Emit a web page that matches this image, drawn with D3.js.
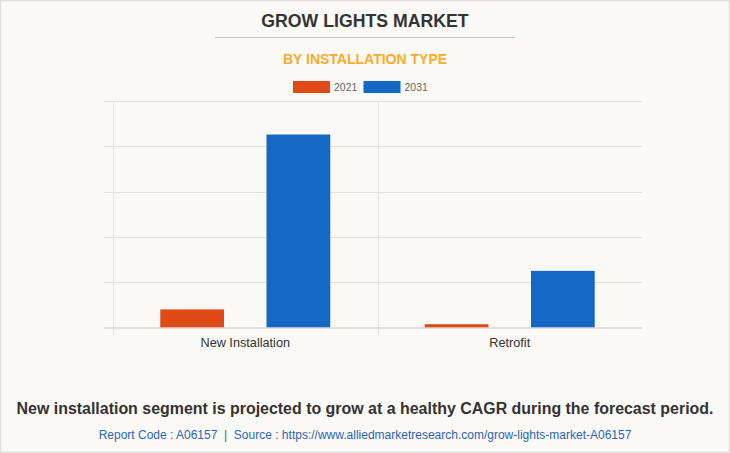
<!DOCTYPE html>
<html>
<head>
<meta charset="utf-8">
<script src="https://cdn.jsdelivr.net/npm/d3@7"></script>
<style>
  html, body { margin: 0; padding: 0; background: #faf9f5; }
  svg { display: block; }
</style>
</head>
<body>
<svg id="chart" width="730" height="453"></svg>
<script>
const categories = ["New Installation", "Retrofit"];
const seriesNames = ["2021", "2031"];
const values2021 = [400, 73];
const values2031 = [4260, 1250];
const yTicks = [0, 1000, 2000, 3000, 4000, 5000];
const colors = ["#e04a17", "#1467c2"];

const svg = d3.select("#chart");
const W = 730, H = 453;
const FONT = "Arial, 'Liberation Sans', sans-serif";

svg.append("rect").attr("x", 0.5).attr("y", 0.5).attr("width", W - 1).attr("height", H - 1)
  .attr("fill", "#faf9f5").attr("stroke", "#dedede").attr("stroke-width", 1.5);

svg.append("text").attr("x", 365).attr("y", 27).attr("text-anchor", "middle")
  .attr("font-family", FONT).attr("font-weight", "bold")
  .attr("font-size", 17.7).attr("fill", "#333").text("GROW LIGHTS MARKET");
svg.append("line").attr("x1", 215).attr("x2", 515).attr("y1", 37.5).attr("y2", 37.5)
  .attr("stroke", "#c8c8c8").attr("stroke-width", 1);
svg.append("text").attr("x", 365).attr("y", 64).attr("text-anchor", "middle")
  .attr("font-family", FONT).attr("font-weight", "bold")
  .attr("font-size", 14).attr("fill", "#fbab2b").text("BY INSTALLATION TYPE");

// legend
const legendX = [293, 363.5];
seriesNames.forEach((s, i) => {
  svg.append("rect").attr("x", legendX[i]).attr("y", 81).attr("width", 37).attr("height", 12)
    .attr("fill", colors[i]);
  svg.append("text").attr("x", legendX[i] + 41).attr("y", 91)
    .attr("font-family", FONT).attr("font-size", 10.5)
    .attr("fill", "#666").text(s);
});

const plotLeft = 104, plotRight = 642, plotTop = 101, plotBottom = 327.5;
const y = d3.scaleLinear().domain([0, 5000]).range([plotBottom, plotTop]);
const x0 = d3.scaleBand().domain(categories).range([113, 642]).padding(0);
const x1 = d3.scaleBand().domain(seriesNames).range([0, x0.bandwidth()])
  .paddingInner(0.4).paddingOuter(0.445).align(0.5);

// horizontal gridlines
svg.append("g").selectAll("line").data(yTicks.slice(1)).join("line")
  .attr("x1", plotLeft).attr("x2", plotRight)
  .attr("y1", d => Math.round(y(d)) + 0.5).attr("y2", d => Math.round(y(d)) + 0.5)
  .attr("stroke", "#e2e1dc").attr("stroke-width", 1);

// vertical category gridlines
svg.append("g").selectAll("line").data(categories).join("line")
  .attr("x1", d => Math.round(x0(d)) + 0.5).attr("x2", d => Math.round(x0(d)) + 0.5)
  .attr("y1", plotTop).attr("y2", 335)
  .attr("stroke", "#e6e5e0").attr("stroke-width", 1);

// bars
const data = [values2021, values2031];
const g = svg.append("g");
categories.forEach((c, ci) => {
  seriesNames.forEach((s, si) => {
    const v = data[si][ci];
    g.append("rect")
      .attr("x", x0(c) + x1(s)).attr("width", x1.bandwidth())
      .attr("y", y(v)).attr("height", plotBottom - y(v))
      .attr("fill", colors[si]);
  });
});

// baseline
svg.append("line").attr("x1", plotLeft).attr("x2", plotRight)
  .attr("y1", plotBottom + 0.5).attr("y2", plotBottom + 0.5)
  .attr("stroke", "#c8c8c8").attr("stroke-width", 1.2);

// x axis labels
const xAxis = d3.axisBottom(x0).tickSize(0).tickPadding(10);
const ax = svg.append("g").attr("transform", `translate(0,${plotBottom})`).call(xAxis);
ax.select(".domain").remove();
ax.selectAll("text").attr("font-family", FONT)
  .attr("font-size", 12.7).attr("fill", "#333");

// footer
svg.append("text").attr("x", 365).attr("y", 414).attr("text-anchor", "middle")
  .attr("font-family", FONT).attr("font-weight", "bold")
  .attr("font-size", 15.95).attr("fill", "#333")
  .text("New installation segment is projected to grow at a healthy CAGR during the forecast period.");
svg.append("text").attr("x", 365).attr("y", 439).attr("text-anchor", "middle")
  .attr("font-family", FONT).style("white-space", "pre")
  .attr("font-size", 12).attr("fill", "#2a66b5")
  .text("Report Code : A06157  |  Source : https://www.alliedmarketresearch.com/grow-lights-market-A06157");
</script>
</body>
</html>
